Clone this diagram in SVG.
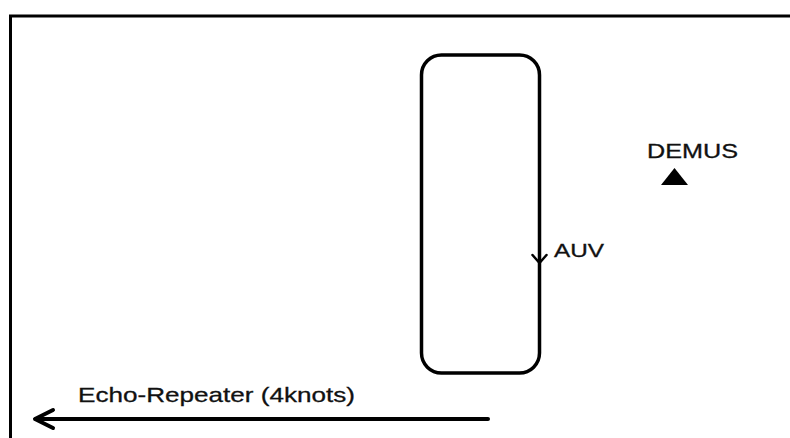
<svg xmlns="http://www.w3.org/2000/svg" width="790" height="438" viewBox="0 0 790 438">
<style>
.t{font-family:"Liberation Sans",Arial,sans-serif;fill:#111;stroke:#111;stroke-width:0.3;}
.ln{fill:none;stroke:#000;stroke-linecap:round;stroke-linejoin:round;}
</style>
<rect width="790" height="438" fill="#fff"/>
<g id="frame">
<path d="M10.5 438 V16 H790" fill="none" stroke="#000" stroke-width="3"/>
</g>
<g id="auv-path">
<rect x="421.5" y="55" width="118" height="318" rx="20" ry="20" fill="none" stroke="#000" stroke-width="3.5"/>
</g>
<g id="auv">
<text class="t" x="554" y="257" font-size="19" textLength="50" lengthAdjust="spacingAndGlyphs">AUV</text>
</g>
<g id="demus">
<text class="t" x="647" y="158" font-size="20" textLength="91" lengthAdjust="spacingAndGlyphs">DEMUS</text>
<polygon points="661,185 688,185 674.5,168" fill="#000"/>
</g>
<g id="echo">
<text class="t" x="78" y="402" font-size="21" textLength="277" lengthAdjust="spacingAndGlyphs">Echo-Repeater (4knots)</text>
</g>
<g id="connectors">
<path class="ln" d="M532.5 255 L539.5 263 L546.5 255" stroke-width="2.5"/>
<path class="ln" d="M488 419 H36" stroke-width="4"/>
<path class="ln" d="M53 410 L35 419 L53 428" stroke-width="4"/>
</g>
</svg>
